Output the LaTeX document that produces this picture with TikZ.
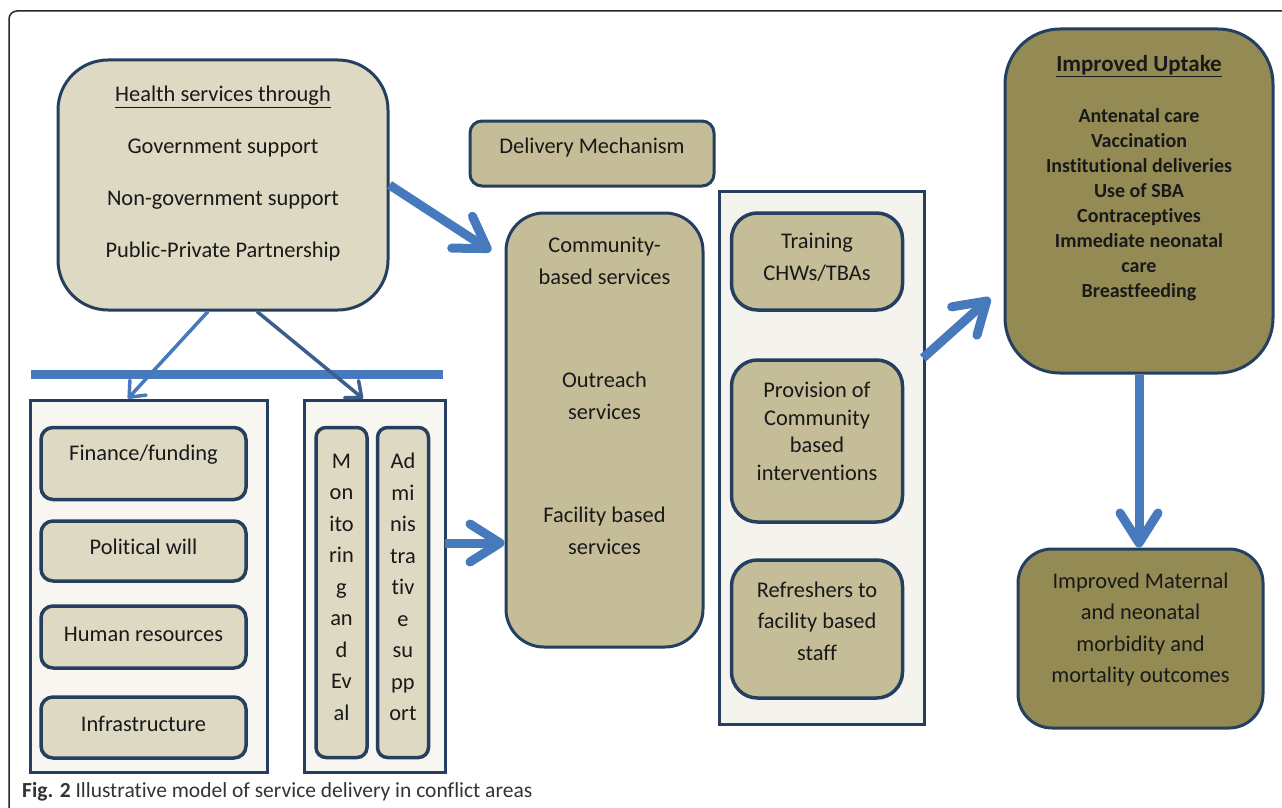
\documentclass[tikz,border=0pt]{standalone}
\usepackage{fontspec}
\setmainfont{Carlito}[Ligatures=NoCommon]
\usetikzlibrary{arrows.meta}
\definecolor{navy}{RGB}{36,63,96}
\definecolor{paleTan}{RGB}{221,217,195}
\definecolor{midTan}{RGB}{196,189,151}
\definecolor{olive}{RGB}{148,138,84}
\definecolor{shellFill}{RGB}{247,246,241}
\definecolor{shellGrey}{RGB}{244,243,238}
\definecolor{arrowBlue}{RGB}{70,122,188}
\definecolor{slateBlue}{RGB}{61,94,140}
\begin{document}
\begin{tikzpicture}[x=1pt,y=-1pt,
    box/.style={draw=navy,line width=3pt,inner sep=0pt},
    shell/.style={box,fill=shellFill},
    pale/.style={box,fill=paleTan,line width=3.5pt,rounded corners=12pt},
    tan/.style={box,fill=midTan,line width=3.5pt,rounded corners=26pt},
    txt/.style={align=center,inner sep=0pt,text=black!90,font=\fontsize{22.4}{31.5}\selectfont},
    bigarrow/.style={draw=arrowBlue,line width=9pt,-{Straight Barb[length=30pt,width=38pt,round]}},
    thinarrow/.style={line width=3.5pt,-{Straight Barb[length=13pt,width=22pt,round]}}]
  \useasboundingbox (0,0) rectangle (1282,808);
  \draw[black!85,line width=1.5pt,rounded corners=8pt] (9,808) -- (9,11) -- (1282,11);

  \node[box,fill=paleTan,rounded corners=50pt,minimum width=330pt,minimum height=250pt] (health) at (223,185) {};
  \node[txt,font=\fontsize{22.4}{52}\selectfont] (health-t) at (223,174)
    {\underline{Health services through}\\Government support\\Non-government support\\Public-Private Partnership};

  \draw[arrowBlue,line width=9pt] (31,374) -- (443,374);

  \node[shell,minimum width=237pt,minimum height=372pt] (pillars) at (148.5,586) {};
  \foreach \n/\yc/\h/\yt/\t in {finance/463.5/72/455/{Finance/funding},political/551/60/547/{Political will},
      human/637/62/634/{Human resources},infra/727.5/61/724/{Infrastructure}}{
    \node[pale,minimum width=205pt,minimum height=\h pt] (\n) at (143.5,\yc) {};
    \node[txt] (\n-t) at (143.5,\yt) {\t};
  }

  \node[shell,minimum width=141pt,minimum height=372pt] (tools) at (374.5,586) {};
  \node[pale,rounded corners=10pt,minimum width=51pt,minimum height=330pt] (mande) at (341.5,592.5) {};
  \node[txt] (mande-t) at (341.5,587) {M\\on\\ito\\rin\\g\\an\\d\\Ev\\al};
  \node[pale,rounded corners=10pt,minimum width=51pt,minimum height=330pt] (admin) at (403,592.5) {};
  \node[txt] (admin-t) at (403,587) {Ad\\mi\\nis\\tra\\tiv\\e\\su\\pp\\ort};

  \node[box,fill=midTan,rounded corners=12pt,minimum width=244pt,minimum height=65pt] (mech) at (592,153.5) {};
  \node[txt] (mech-t) at (592,148) {Delivery Mechanism};

  \node[box,fill=midTan,rounded corners=38pt,minimum width=197pt,minimum height=434pt] (services) at (604.5,430) {};
  \foreach \t [count=\i] in {{Community-\\based services},{Outreach\\services},{Facility based\\services}}
    \node[txt] (svc-\i) at (604.5,{126+135*\i}) {\t};

  \node[shell,fill=shellGrey,minimum width=205pt,minimum height=533pt] (cw) at (821.5,457.5) {};
  \node[tan,minimum width=171pt,minimum height=97pt] (training) at (817,261.5) {};
  \node[txt] (training-t) at (817,257.5) {Training\\CHWs/TBAs};
  \node[tan,minimum width=171pt,minimum height=162pt] (provision) at (817,441) {};
  \node[txt,font=\fontsize{22.4}{27.7}\selectfont] (provision-t) at (817,431.5) {Provision of\\Community\\based\\interventions};
  \node[tan,minimum width=171pt,minimum height=138pt] (refresher) at (817,629) {};
  \node[txt] (refresher-t) at (817,621) {Refreshers to\\facility based\\staff};

  \node[box,fill=olive,rounded corners=55pt,minimum width=268pt,minimum height=344pt] (uptake) at (1139,201) {};
  \node[txt,font=\bfseries\fontsize{20}{25}\selectfont] (uptake-t) at (1139,178)
    {{\fontsize{23}{25}\selectfont\underline{Improved Uptake}}\\[26pt]Antenatal care\\Vaccination\\Institutional deliveries\\Use of SBA\\Contraceptives\\Immediate neonatal\\care\\Breastfeeding};

  \node[box,fill=olive,rounded corners=34pt,minimum width=245pt,minimum height=179pt] (outcome) at (1140.5,638.5) {};
  \node[txt] (outcome-t) at (1140.5,629.5) {Improved Maternal\\and neonatal\\morbidity and\\mortality outcomes};

  \coordinate (feed-tip) at (491,251);
  \coordinate (tools-out) at (445,543);
  \coordinate (cw-out) at (923,358);
  \coordinate (uptake-in) at (990,298);
  \draw[bigarrow] (health.east) -- (feed-tip);
  \draw[bigarrow] (tools-out) -- (services.west |- tools-out);
  \draw[bigarrow] (cw-out) -- (uptake-in);
  \draw[bigarrow] (uptake.south) -- (uptake.south |- outcome.north);
  \draw[thinarrow,arrowBlue] ([xshift=-15pt]health.south) -- ([xshift=-20.5pt]pillars.north);
  \draw[thinarrow,slateBlue] ([xshift=34pt]health.south) -- ([xshift=-11.5pt]tools.north);

  \node[anchor=base west,inner sep=0pt,text=black!80,font=\fontsize{21.5}{24}\selectfont] (caption) at (22,797)
    {\textbf{Fig. 2} Illustrative model of service delivery in conflict areas};
\end{tikzpicture}
\end{document}
